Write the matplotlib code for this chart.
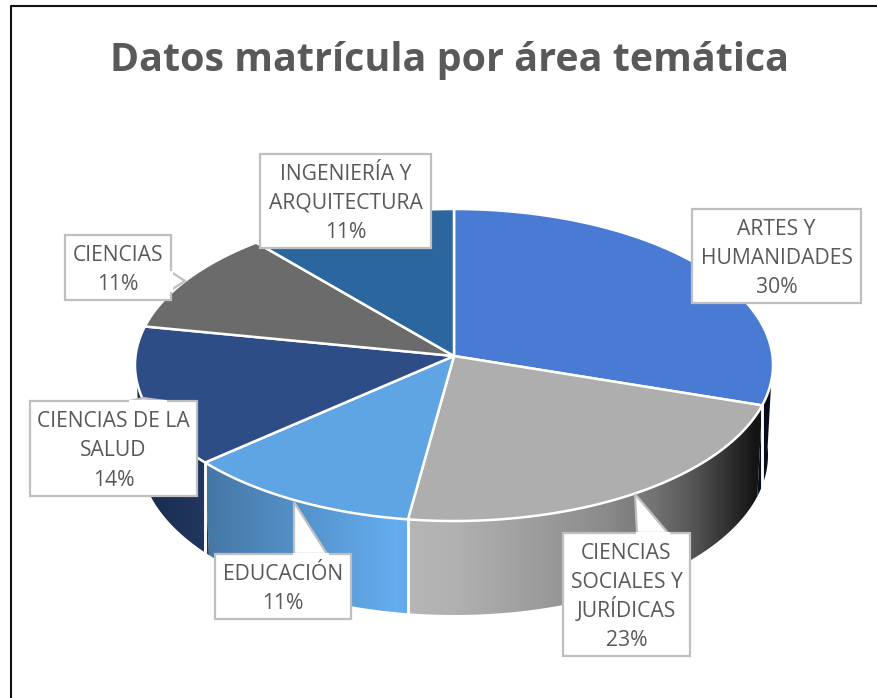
import numpy as np
from matplotlib import pyplot as plt
from matplotlib.colors import to_rgb
from matplotlib.patches import Polygon, Rectangle

#----------Datos----------
categorias = ["ARTES Y\nHUMANIDADES", "CIENCIAS\nSOCIALES Y\nJURÍDICAS", "EDUCACIÓN",
              "CIENCIAS DE LA\nSALUD", "CIENCIAS", "INGENIERÍA Y\nARQUITECTURA"]
porcentajes = [30, 23, 11, 14, 11, 11]
colores = ["#4a7bd4", "#aeaeae", "#5fa4e3", "#2e4c85", "#6b6b6b", "#2b669f"]

titulo = "Datos matrícula por área temática"
gris_texto = "#595959"

# caja de cada etiqueta: x0, y0, x1, y1 y la punta (triangulo) si la tiene
cajas = [(692, 209, 861, 303, None),
         (563, 533, 690, 656, [(637, 533), (635, 494), (668, 533)]),
         (215, 554, 351, 619, [(294, 554), (294, 502), (327, 554)]),
         (30, 401, 197, 496, [(130, 401), (143, 398), (165, 401)]),
         (65, 235, 171, 300, [(171, 272), (185, 281), (171, 290)]),
         (260, 154, 431, 248, None)]

# geometria del pastel en pixeles
cx = 454
apice_y = 356
sup_rx, sup_ry, sup_cy = 319, 156, 365
inf_rx, inf_ry, inf_cy = 314, 160, 455

# el 3D de la perspectiva deforma un poco los angulos
grados_reales = [0, 108, 190.8, 230.4, 280.8, 320.4, 360]
grados_vista = [0, 105, 188.3, 231.3, 284.3, 321.7, 360]

luz_dx = [-320, -250, -120, -60, 0, 150, 200, 240, 270, 300, 320]
luz_val = [0.55, 0.72, 0.95, 1.05, 1.02, 0.8, 0.66, 0.48, 0.3, 0.12, 0.12]

paso_linea = 29.3


def borde(ang, rx, ry, cy):
    return cx + rx * np.sin(ang), cy - ry * np.cos(ang)


fig = plt.figure(figsize=(8.77, 6.98), dpi=100)
ax = fig.add_axes([0, 0, 1, 1])
ax.axis("off")

limites = np.interp(np.cumsum([0] + porcentajes) * 3.6, grados_reales, grados_vista)
limites = np.deg2rad(limites)

#----------Paredes laterales----------
for i in range(len(porcentajes)):
    a0 = max(limites[i], np.pi / 2 - 0.05)
    a1 = min(limites[i + 1], 3 * np.pi / 2 + 0.05)
    if a1 <= a0:
        continue
    ang = np.linspace(a0, a1, 120)
    xs, ys = borde(ang, sup_rx, sup_ry, sup_cy)
    xi, yi = borde(ang[::-1], inf_rx, inf_ry, inf_cy)
    pared = Polygon(np.r_[np.c_[xs, ys], np.c_[xi, yi]], closed=True,
                    facecolor="none", edgecolor="none")
    ax.add_patch(pared)

    px = np.arange(100, 800)
    luz = np.interp(px - cx, luz_dx, luz_val)
    base = np.array(to_rgb(colores[i]))
    img = (luz[None, :, None] * base[None, None, :]).clip(0, 1)
    im = ax.imshow(img, extent=(100, 800, 640, 340), aspect="auto", zorder=1)
    im.set_clip_path(pared)

    # separacion blanca entre paredes
    for a in (limites[i], limites[i + 1]):
        if np.pi / 2 < a < 3 * np.pi / 2:
            x0, y0 = borde(a, sup_rx, sup_ry, sup_cy)
            x1, y1 = borde(a, inf_rx, inf_ry, inf_cy)
            ax.plot([x0, x0], [y0, y1], color="white", lw=1.8, zorder=2)

#----------Cara superior----------
for i in range(len(porcentajes)):
    ang = np.linspace(limites[i], limites[i + 1], 120)
    xs, ys = borde(ang, sup_rx, sup_ry, sup_cy)
    puntos = np.r_[[[cx, apice_y]], np.c_[xs, ys]]
    ax.add_patch(Polygon(puntos, closed=True, facecolor=colores[i],
                         edgecolor="white", lw=1.8, joinstyle="round", zorder=3))

#----------Etiquetas----------
for nombre, valor, caja in zip(categorias, porcentajes, cajas):
    x0, y0, x1, y1, punta = caja
    if punta is not None:
        ax.add_patch(Polygon(punta, closed=True, facecolor="white",
                             edgecolor="#bfbfbf", lw=1.6, zorder=4))
    ax.add_patch(Rectangle((x0, y0), x1 - x0, y1 - y0, facecolor="white",
                           edgecolor="#bfbfbf", lw=1.6, zorder=5))
    if punta is not None:
        # tapa la base del triangulo
        a, b = punta[0], punta[-1]
        ax.plot([a[0], b[0]], [a[1], b[1]], color="white", lw=2.2, zorder=6)
    # una linea cada vez, asi el paso no depende de los acentos
    lineas = nombre.split("\n") + ["%d%%" % valor]
    for k, linea in enumerate(lineas):
        y = (y0 + y1) / 2 + (k - (len(lineas) - 1) / 2) * paso_linea + 8
        ax.text((x0 + x1) / 2, y, linea, ha="center", va="baseline", fontsize=15.2,
                family="Open Sans", color=gris_texto, zorder=7)

ax.text(450, 60, titulo, ha="center", va="center", fontsize=28.4,
        family="Open Sans", weight="bold", color=gris_texto)

# marco: solo arriba e izquierda
ax.plot([11, 11, 877], [698, 6, 6], color="#111111", lw=1.5, zorder=8)

ax.set_xlim(0, 877)
ax.set_ylim(698, 0)
fig.savefig("out.png", dpi=100)
